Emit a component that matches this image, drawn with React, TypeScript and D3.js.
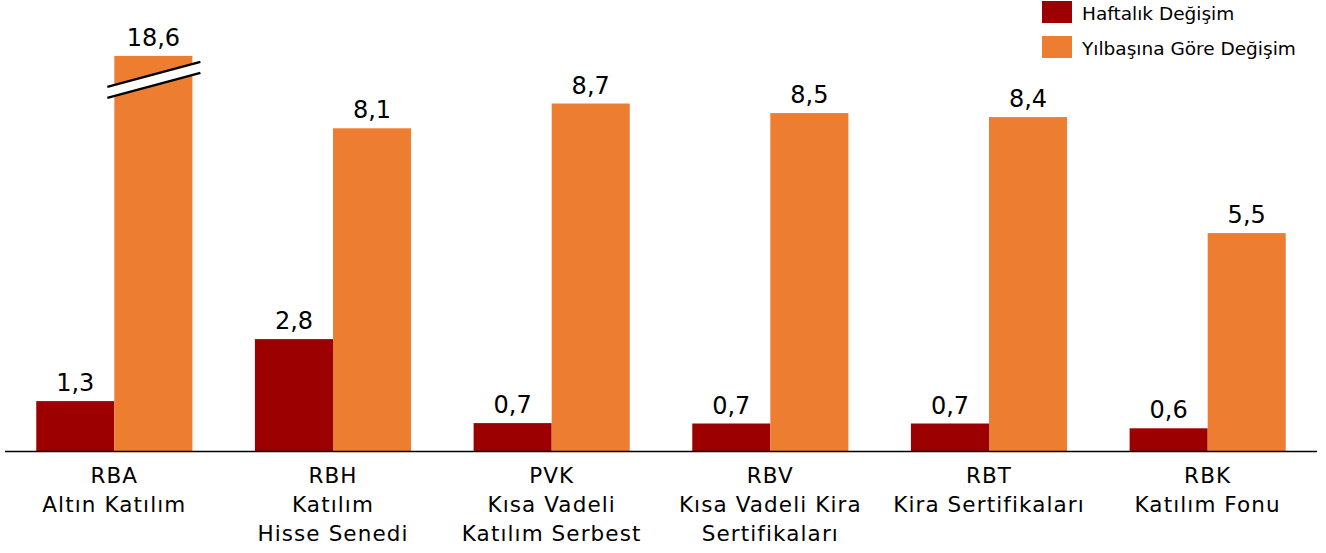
import React from "react";
import * as d3 from "d3";

const categories = ["RBA", "RBH", "PVK", "RBV", "RBT", "RBK"];
const categoryLines = [
  ["RBA", "Altın Katılım"],
  ["RBH", "Katılım", "Hisse Senedi"],
  ["PVK", "Kısa Vadeli", "Katılım Serbest"],
  ["RBV", "Kısa Vadeli Kira", "Sertifikaları"],
  ["RBT", "Kira Sertifikaları"],
  ["RBK", "Katılım Fonu"],
];
const weekly = [1.26, 2.81, 0.71, 0.7, 0.7, 0.58];
const ytd = [18.6, 8.08, 8.7, 8.46, 8.36, 5.46];
const seriesNames = ["Haftalık Değişim", "Yılbaşına Göre Değişim"];
const colors = ["#9C0000", "#ED7D31"];
const breakCap = 9.89;

const W = 1326;
const H = 553;
const FONT = "'DejaVu Sans', sans-serif";

export default function App() {
  const x = d3.scaleBand().domain(categories).range([5, 1317]).paddingInner(0.286).paddingOuter(0.143);
  const inner = d3.scaleBand().domain(["w", "y"]).range([0, x.bandwidth()]);
  const y = d3.scaleLinear().domain([0, 10]).range([451.5, 51.5]);
  const fmt = (v: number) => v.toFixed(1).replace(".", ",");

  return (
    <div style={{ position: "absolute", left: 0, top: 0 }}>
      <svg width={W} height={H} style={{ display: "block", fontFamily: FONT }}>
        {categories.map((c, i) => {
          const x0 = x(c)!;
          const bw = inner.bandwidth();
          const wv = weekly[i];
          const yv = ytd[i];
          const yShown = Math.min(yv, breakCap);
          const broken = yv > breakCap;
          const bx = x0 + inner("y")!;
          const top = y(yShown);
          return (
            <g key={c}>
              <rect x={x0 + inner("w")!} y={y(wv)} width={bw} height={y(0) - y(wv)} fill={colors[0]} />
              <rect x={bx} y={top} width={bw} height={y(0) - top} fill={colors[1]} />
              <text x={x0 + inner("w")! + bw / 2} y={y(wv) - 10} textAnchor="middle" fontSize={24} fill="#000">
                {fmt(wv)}
              </text>
              <text x={bx + bw / 2} y={top - 10} textAnchor="middle" fontSize={24} fill="#000">
                {fmt(yv)}
              </text>
              {broken && (
                <g>
                  <polygon
                    points={`${bx - 7},${top + 31} ${bx + bw + 8},${top + 6} ${bx + bw + 8},${top + 17} ${bx - 7},${top + 42}`}
                    fill="#fff"
                  />
                  <line x1={bx - 7} y1={top + 31} x2={bx + bw + 8} y2={top + 6} stroke="#000" strokeWidth={2.2} />
                  <line x1={bx - 7} y1={top + 42} x2={bx + bw + 8} y2={top + 17} stroke="#000" strokeWidth={2.2} />
                </g>
              )}
              {categoryLines[i].map((t, j) => (
                <text
                  key={j}
                  x={x0 + x.bandwidth() / 2}
                  y={483 + j * 29}
                  textAnchor="middle"
                  fontSize={21.5}
                  letterSpacing={1.1}
                  fill="#000"
                >
                  {t}
                </text>
              ))}
            </g>
          );
        })}
        <line x1={5} x2={1317} y1={451.5} y2={451.5} stroke="#000" strokeWidth={1.5} />
        {seriesNames.map((s, i) => (
          <g key={s} transform={`translate(1042, ${1 + i * 35})`}>
            <rect width={30} height={22} fill={colors[i]} />
            <text x={40} y={19} fontSize={18.5} fill="#000">
              {s}
            </text>
          </g>
        ))}
      </svg>
    </div>
  );
}
